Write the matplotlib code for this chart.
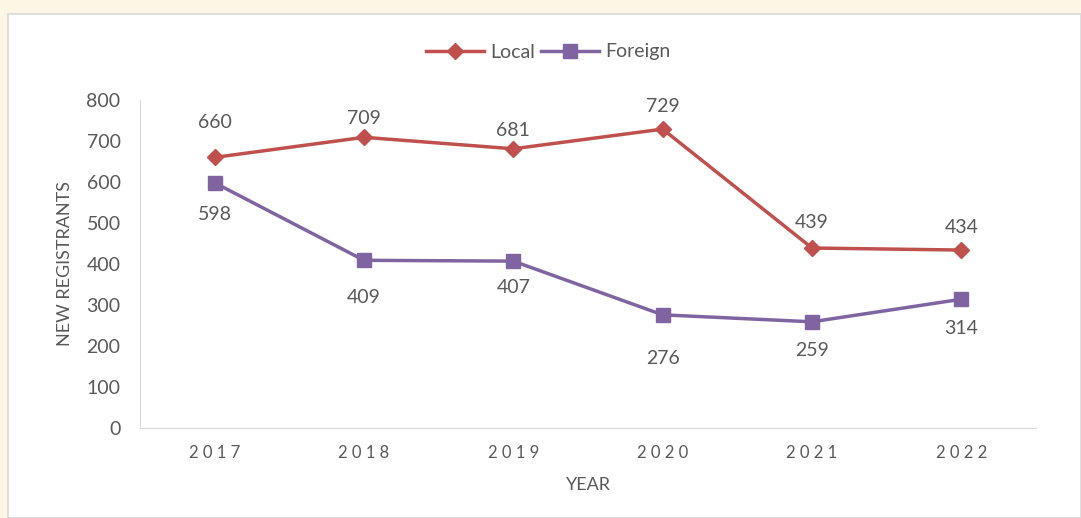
import matplotlib.pyplot as plt
from matplotlib.patches import Rectangle

years = ["2017", "2018", "2019", "2020", "2021", "2022"]
local = [660, 709, 681, 729, 439, 434]
foreign = [598, 409, 407, 276, 259, 314]

# label offsets in pixels (as placed in the original)
local_off = [35, 19, 18, 23, 26, 23]
foreign_off = [-32, -37, -26, -44, -29, -29]

red = "#C0504D"
purple = "#8064A2"
gray = "#595959"

plt.rcParams["font.family"] = ["Lato", "DejaVu Sans"]

W, H = 1081, 518
fig = plt.figure(figsize=(W / 100, H / 100), dpi=100)
fig.patch.set_facecolor("#FEF6E4")
# white chart panel
fig.patches.append(Rectangle((8 / W, 0), 1 - 8 / W, 1 - 14 / H, transform=fig.transFigure,
                             facecolor="white", edgecolor="#D9D9D9", lw=1.2, zorder=-5))

ax = fig.add_axes([140 / W, 90 / H, 896 / W, 328 / H])
ax.set_facecolor("none")
x = range(len(years))
ax.plot(x, local, color=red, lw=2.5, marker="D", ms=8, label="Local")
ax.plot(x, foreign, color=purple, lw=2.5, marker="s", ms=10, label="Foreign")

for i, v in enumerate(local):
    ax.annotate(str(v), (i, v), xytext=(0, local_off[i] * 0.72), textcoords="offset points",
                ha="center", va="center", fontsize=14, color=gray)
for i, v in enumerate(foreign):
    ax.annotate(str(v), (i, v), xytext=(0, foreign_off[i] * 0.72), textcoords="offset points",
                ha="center", va="center", fontsize=14, color=gray)

ax.set_xlim(-0.5, 5.5)
ax.set_ylim(0, 800)
ax.set_yticks(range(0, 801, 100))
ax.set_xticks(list(x))
ax.set_xticklabels([" ".join(y) for y in years], fontsize=12)
ax.tick_params(axis="x", length=0, pad=12, colors=gray)
ax.tick_params(axis="y", length=0, pad=14, labelsize=14, colors=gray)
for s in ["top", "right"]:
    ax.spines[s].set_visible(False)
ax.spines["left"].set_color("#D9D9D9")
ax.spines["bottom"].set_color("#D9D9D9")

ax.set_ylabel("NEW REGISTRANTS", fontsize=13, color=gray, labelpad=10)
ax.set_xlabel("YEAR", fontsize=13, color=gray, labelpad=12)

fig.legend(loc="center", bbox_to_anchor=(548 / W, 1 - 52 / H), ncol=2, frameon=False,
           fontsize=14, labelcolor=gray, handlelength=3, columnspacing=0.3, handletextpad=0.3)

fig.savefig("out.png", dpi=100, facecolor=fig.get_facecolor())
